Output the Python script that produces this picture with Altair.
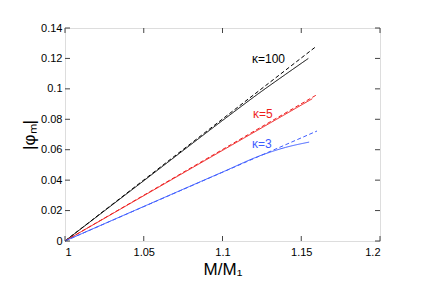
import altair as alt
import pandas as pd

# ---- data ----
k100_solid_x = [1.0, 1.05, 1.10, 1.125, 1.14, 1.1545]
k100_solid_y = [0.0, 0.0396, 0.0792, 0.0985, 0.1095, 0.1200]
k100_dash_x = [1.0, 1.159]
k100_dash_y = [0.0, 0.1275]

k5_solid_x = [1.0, 1.157]
k5_solid_y = [0.0, 0.0935]
k5_dash_x = [1.0, 1.16]
k5_dash_y = [0.0, 0.0962]

k3_solid_x = [1.0, 1.05, 1.10, 1.125, 1.14, 1.155]
k3_solid_y = [0.0, 0.0227, 0.0453, 0.0565, 0.0615, 0.0650]
k3_dash_x = [1.0, 1.16]
k3_dash_y = [0.0, 0.0723]

label_text = ["κ=100", "κ=5", "κ=3"]
label_x = [1.1187, 1.1194, 1.1187]
label_y = [0.1170, 0.0808, 0.0611]
label_col = ["#000000", "#ee1c1c", "#3d5cff"]

x_ticks = [1.0, 1.05, 1.1, 1.15, 1.2]
y_ticks = [0.0, 0.02, 0.04, 0.06, 0.08, 0.1, 0.12, 0.14]

series = [
    ("k100s", k100_solid_x, k100_solid_y, "#000000", "solid"),
    ("k100d", k100_dash_x, k100_dash_y, "#000000", "dashed"),
    ("k5s", k5_solid_x, k5_solid_y, "#ee1c1c", "solid"),
    ("k5d", k5_dash_x, k5_dash_y, "#ee1c1c", "dashed"),
    ("k3s", k3_solid_x, k3_solid_y, "#3d5cff", "solid"),
    ("k3d", k3_dash_x, k3_dash_y, "#3d5cff", "dashed"),
]
rows = []
for name, xs_, ys_, col, dash in series:
    for i, (xv, yv) in enumerate(zip(xs_, ys_)):
        rows.append({"name": name, "x": xv, "y": yv, "col": col, "dash": dash, "o": i})
lines = pd.DataFrame(rows)
labels = pd.DataFrame({"t": label_text, "x": label_x, "y": label_y, "col": label_col})
xt = pd.DataFrame({"x": x_ticks})
yt = pd.DataFrame({"y": y_ticks})

FONT = "Liberation Sans"
xs = alt.Scale(domain=[1.0, 1.2], nice=False, zero=False)
ys = alt.Scale(domain=[0.0, 0.14], nice=False, zero=False)

x_axis = alt.Axis(values=x_ticks, format="~g", ticks=False, domain=False, grid=False,
                  labelFont=FONT, labelFontSize=11, labelColor="#000", labelPadding=5,
                  titleFont=FONT, titleFontSize=17, titleFontWeight="normal",
                  titleColor="#000", titlePadding=4)
y_axis = alt.Axis(values=y_ticks, format="~g", ticks=False, domain=False, grid=False,
                  labelFont=FONT, labelFontSize=11, labelColor="#000", labelPadding=3,
                  titleFont=FONT, titleFontSize=17, titleFontWeight="normal",
                  titleColor="#000", titlePadding=2)
XT = "M/M₁"
YT = "|φₘ|"

def X(field="x"):
    return alt.X(f"{field}:Q", scale=xs, axis=x_axis, title=XT)

def Y(field="y"):
    return alt.Y(f"{field}:Q", scale=ys, axis=y_axis, title=YT)

line_layer = alt.Chart(lines).mark_line(strokeWidth=1, interpolate="monotone").encode(
    x=X(), y=Y(),
    color=alt.Color("col:N", scale=None),
    strokeDash=alt.StrokeDash("dash:N", scale=alt.Scale(domain=["solid", "dashed"],
                                                         range=[[1, 0], [4, 2.5]]), legend=None),
    detail="name:N",
    order="o:Q",
)

text_layer = alt.Chart(labels).mark_text(align="left", baseline="alphabetic",
                                          font=FONT, fontSize=12).encode(
    x=X(), y=Y(),
    text="t:N",
    color=alt.Color("col:N", scale=None),
)

TICK = 5
W, H = 315, 213
tick_col = "#444444"
left_t = alt.Chart(yt).mark_rule(color=tick_col, strokeWidth=1).encode(
    y=Y(), x=alt.value(0), x2=alt.value(TICK))
right_t = alt.Chart(yt).mark_rule(color=tick_col, strokeWidth=1).encode(
    y=Y(), x=alt.value(W), x2=alt.value(W - TICK))
bot_t = alt.Chart(xt).mark_rule(color=tick_col, strokeWidth=1).encode(
    x=X(), y=alt.value(H), y2=alt.value(H - TICK))
top_t = alt.Chart(xt).mark_rule(color=tick_col, strokeWidth=1).encode(
    x=X(), y=alt.value(0), y2=alt.value(TICK))

chart = alt.layer(line_layer, left_t, right_t, bot_t, top_t, text_layer).properties(
    width=W, height=H,
    autosize=alt.AutoSizeParams(type="none"),
    padding={"left": 57, "top": 20, "right": 37, "bottom": 37},
).configure_view(stroke="#444444", strokeWidth=1).configure(background="white")

chart.save("out.html", embed_options={"renderer": "svg", "actions": False})
